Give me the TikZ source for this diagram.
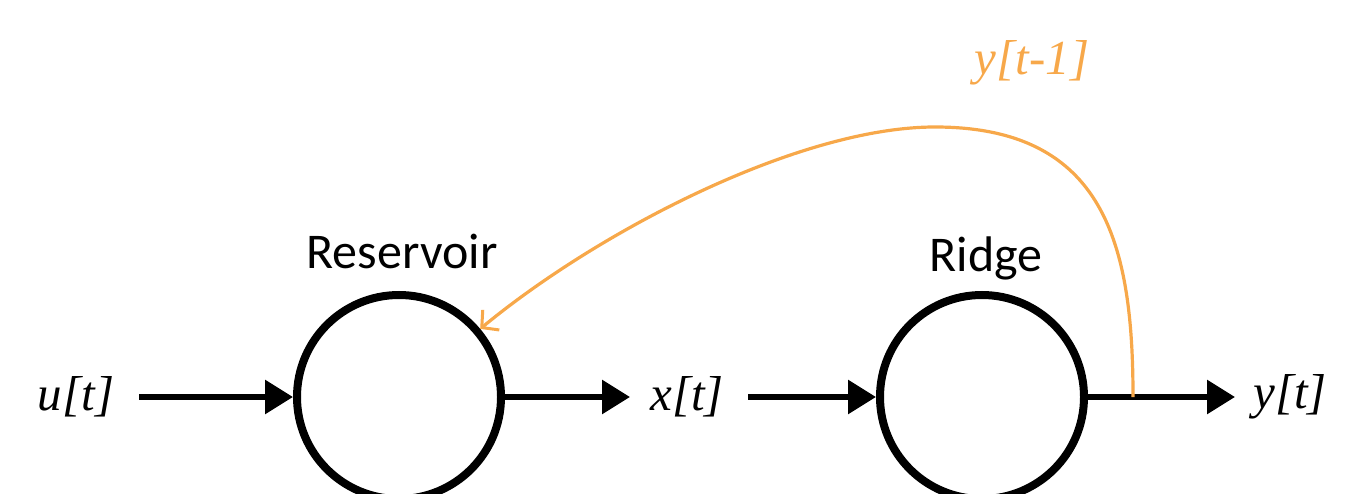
\documentclass[tikz,border=0pt]{standalone}
\usepackage{fontspec}
\setmainfont{Carlito}
\newfontfamily\mathlike{Liberation Serif}
\usetikzlibrary{arrows.meta}
\definecolor{fborange}{RGB}{247,168,74}
\tikzset{
  unit/.style={circle, draw=black, line width=8pt, minimum size=204pt, inner sep=0pt},
  sig/.style={font=\mathlike\itshape\fontsize{49}{54}\selectfont, inner sep=0pt, anchor=center},
  title/.style={font=\fontsize{50}{56}\selectfont, inner sep=0pt, anchor=base},
  arr/.style={line width=6pt, -{Triangle[length=28pt,width=33pt]}},
  fb/.style={fborange, line width=3.2pt, -{Straight Barb[length=12pt,width=26pt,line width=3pt]}}
}
\begin{document}
\begin{tikzpicture}[x=1pt,y=-1pt]
\useasboundingbox (0,0) rectangle (1372,494);
\clip (0,0) rectangle (1372,494);
\node[unit] (res) at (399,397) {};
\node[unit] (rdg) at (982,397) {};
\node[title] (restitle) at (402,268) {Reservoir};
\node[title] (rdgtitle) at (986,271) {Ridge};
\node[sig] (u) at (76,397) {u[t]};
\node[sig] (x) at (687,397) {x[t]};
\node[sig] (y) at (1290,397) {y[t]};
\node[sig, text=fborange] (yprev) at (1032,63) {y[t-1]};
\coordinate (a1) at (139,397);
\coordinate (a2) at (630,397);
\coordinate (a3) at (748,397);
\coordinate (a4) at (1235,397);
\coordinate (fbstart) at (1133,397);
\coordinate (fbtop) at (935,127);
\draw[arr] (a1) -- (res.west);
\draw[arr] (res.east) -- (a2);
\draw[arr] (a3) -- (rdg.west);
\draw[arr] (rdg.east) -- (a4);
\draw[fb] (fbstart) .. controls (1133,245) and (1105,127) .. (fbtop)
  .. controls (800,127) and (600,230) .. (res.40);
\end{tikzpicture}
\end{document}
